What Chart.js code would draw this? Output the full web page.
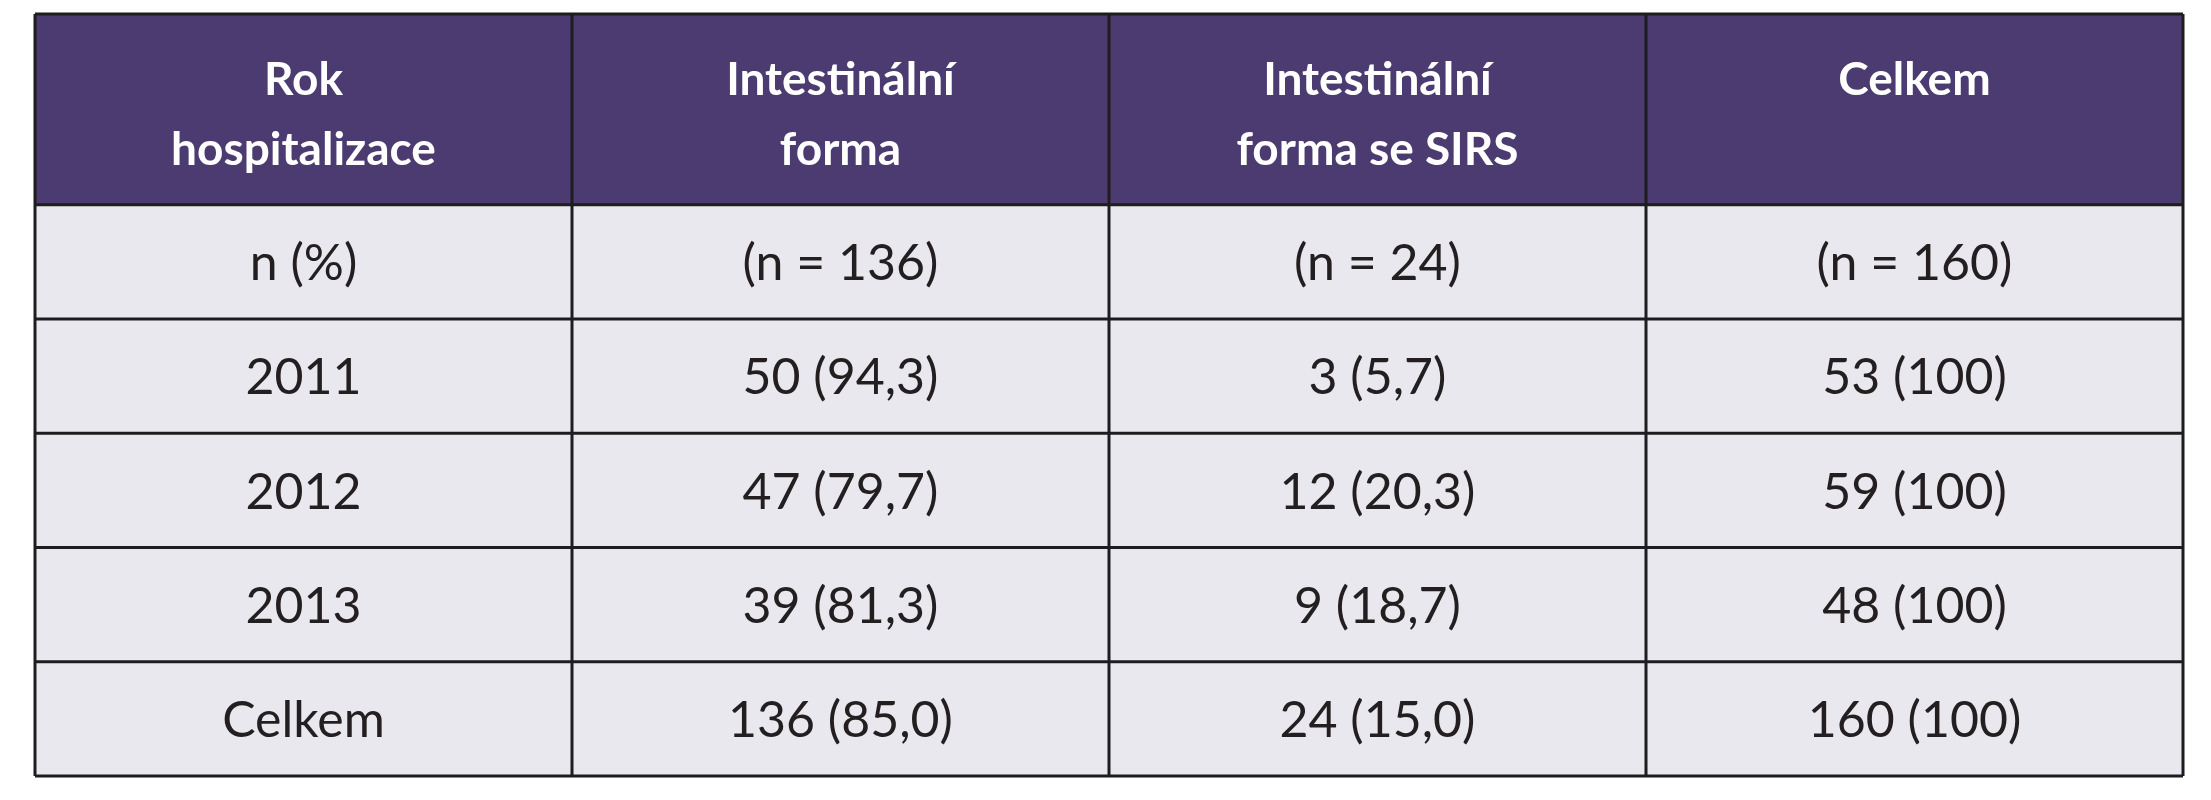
<!DOCTYPE html>
<html><head><meta charset="utf-8">
<script src="https://cdn.jsdelivr.net/npm/chart.js@4"></script>
<style>html,body{margin:0;padding:0;background:#fff}#c{display:block}</style>
</head><body>
<canvas id="c" width="2211" height="800"></canvas>
<script>
const headers = [["Rok","hospitalizace"],["Intestinální","forma"],["Intestinální","forma se SIRS"],["Celkem",""]];
const rowLabels = ["n (%)","2011","2012","2013","Celkem"];
const intestinalni = ["(n = 136)","50 (94,3)","47 (79,7)","39 (81,3)","136 (85,0)"];
const sirs = ["(n = 24)","3 (5,7)","12 (20,3)","9 (18,7)","24 (15,0)"];
const celkem = ["(n = 160)","53 (100)","59 (100)","48 (100)","160 (100)"];
const columns = [rowLabels, intestinalni, sirs, celkem];
const headerUnits = 1.67;

const tablePlugin = {
  id:'table',
  beforeDatasetsDraw(chart){
    const ctx = chart.ctx, xs = chart.scales.x, ys = chart.scales.y;
    const rowB = [0, headerUnits];
    for (let i=0;i<rowLabels.length;i++) rowB.push(headerUnits+i+1);
    const X = i=>xs.getPixelForValue(i), Y = v=>ys.getPixelForValue(v);
    // header
    ctx.fillStyle='#4c3b71';
    ctx.fillRect(X(0),Y(0),X(4)-X(0),Y(headerUnits)-Y(0));
    ctx.fillStyle='#eae8ef';
    ctx.fillRect(X(0),Y(headerUnits),X(4)-X(0),Y(rowB[rowB.length-1])-Y(headerUnits));
    ctx.textAlign='center'; ctx.textBaseline='middle';
    for (let c=0;c<4;c++){
      const cx=(X(c)+X(c+1))/2;
      ctx.fillStyle='#ffffff'; ctx.font='bold 46px Lato';
      ctx.fillText(headers[c][0],cx,Y(0)+66);
      ctx.fillText(headers[c][1],cx,Y(0)+136);
      ctx.fillStyle='#231f20'; ctx.font='50px Lato';
      for (let r=0;r<columns[c].length;r++){
        ctx.fillText(columns[c][r],cx,(Y(rowB[r+1])+Y(rowB[r+2]))/2+2);
      }
    }
    ctx.strokeStyle='#1d1d1f'; ctx.lineWidth=3;
    ctx.beginPath();
    for (let c=0;c<=4;c++){ctx.moveTo(X(c),Y(0));ctx.lineTo(X(c),Y(rowB[rowB.length-1]));}
    for (const b of rowB){ctx.moveTo(X(0),Y(b));ctx.lineTo(X(4),Y(b));}
    ctx.stroke();
  }
};
new Chart(document.getElementById('c'),{
  type:'scatter',
  data:{datasets:[{data:[]}]},
  options:{responsive:false,animation:false,
    layout:{padding:{left:35,top:14,right:28,bottom:24}},
    plugins:{legend:{display:false},tooltip:{enabled:false}},
    scales:{x:{type:'linear',min:0,max:4,display:false},
            y:{type:'linear',min:0,max:headerUnits+rowLabels.length,reverse:true,display:false}}},
  plugins:[tablePlugin]
});
</script></body></html>
